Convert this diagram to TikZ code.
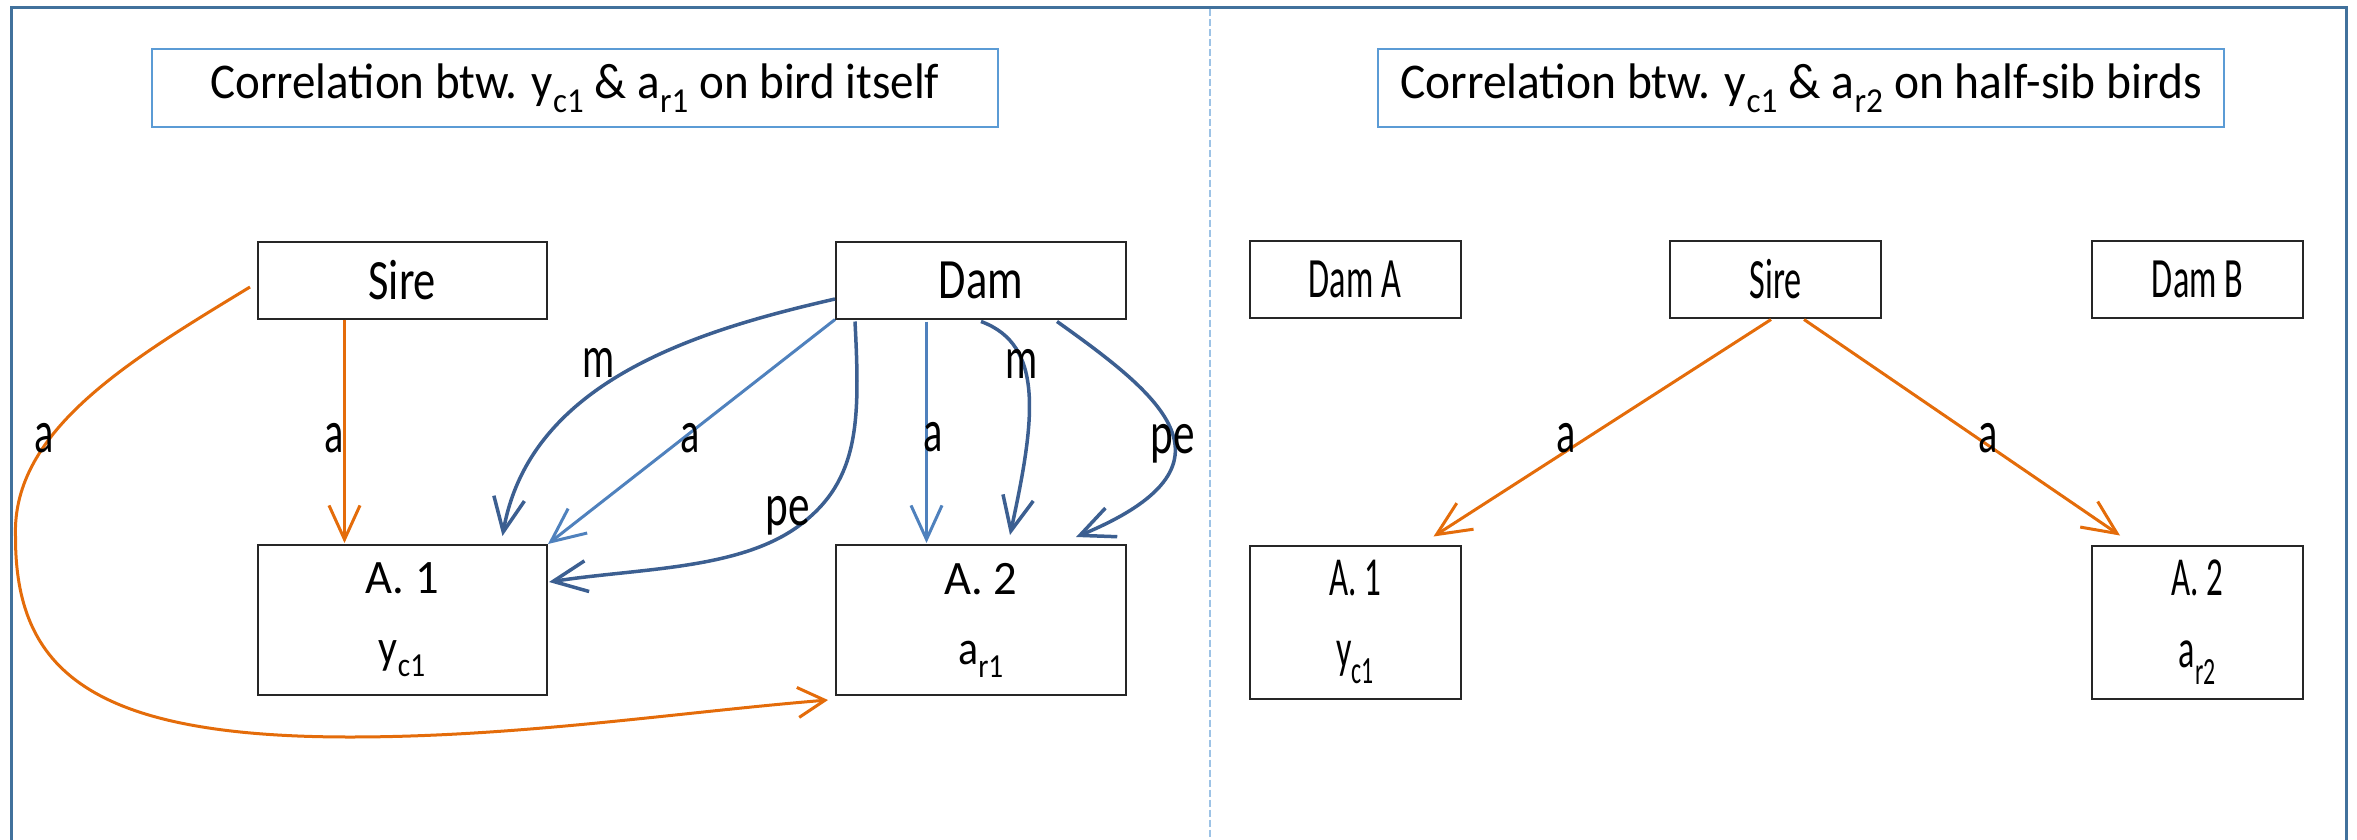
\documentclass[tikz,border=0pt]{standalone}
\usepackage{fontspec}
\setmainfont{Carlito}
\usepackage{graphicx}
\usetikzlibrary{arrows.meta,calc}
\definecolor{frameblue}{RGB}{65,113,156}
\definecolor{divblue}{RGB}{157,195,230}
\definecolor{titleblue}{RGB}{91,155,213}
\definecolor{orng}{RGB}{228,108,10}
\definecolor{dblue}{RGB}{60,95,145}
\definecolor{lblue}{RGB}{79,129,189}
\newcommand{\sx}[2]{\scalebox{#1}[1]{#2}}
\begin{document}
\begin{tikzpicture}[x=1pt,y=-1pt,
  box/.style={draw=black!85, line width=2pt, inner sep=0pt},
  titlebox/.style={draw=titleblue, line width=2pt, minimum width=846pt, minimum height=78pt, inner sep=0pt, font=\fontsize{50}{60}\selectfont},
  parent/.style={box, minimum height=77pt, font=\fontsize{57}{68}\selectfont},
  child/.style={box, minimum height=150pt, align=center, font=\fontsize{48}{70}\selectfont},
  lbl/.style={font=\fontsize{60}{70}\selectfont, inner sep=0pt},
  tipb/.style={-{Straight Barb[length=34pt,width=31pt]}},
  oarr/.style={draw=orng, line width=3pt, tipb},
  darr/.style={draw=dblue, line width=3.5pt, tipb},
  larr/.style={draw=lblue, line width=3pt, tipb},
]
\useasboundingbox (0,0) rectangle (2357,840);
\clip (0,0) rectangle (2357,840);
% frame and divider
\draw[frameblue, line width=3pt] (11,850) -- (11,8) -- (2346.5,8) -- (2346.5,850);
\draw[divblue, line width=2.5pt, dash pattern=on 7pt off 3pt] (1210,9.5) -- (1210,850);

% ---------- left panel ----------
\node[titlebox] (t1) at (575,88) {\sx{0.94}{Correlation btw. y\textsubscript{c1} \& a\textsubscript{r1} on bird itself}};
\node[parent, minimum width=289.5pt] (sire) at (402.25,280) {\sx{0.78}{Sire}};
\node[parent, minimum width=290pt] (dam) at (981,280) {\sx{0.78}{Dam}};
\node[child, minimum width=289.5pt] (a1) at (402.25,620) {\sx{0.97}{A. 1}\\\sx{0.87}{y\textsubscript{c1}}};
\node[child, minimum width=290pt] (a2) at (981,620) {\sx{0.97}{A. 2}\\\sx{0.87}{a\textsubscript{r1}}};

\draw[oarr] ($(sire.south west)+(88,0)$) -- ($(a1.north west)+(88,-1)$);
\draw[oarr, -{Straight Barb[length=27pt,width=30pt]}] ($(sire.west)+(-6.5,7)$) .. controls (130,360) and (12,430) .. (15.5,536)
  .. controls (15,670) and (90,737) .. (350,737)
  .. controls (520,737) and (680,712) .. ($(a2.south west)+(-7,4)$);
\draw[darr] ($(dam.west)+(0,19)$) .. controls (700,330) and (530,380) .. ($(a1.north west)+(246,-8)$);
\draw[larr] (dam.south west) -- (a1.north east);
\draw[darr] ($(dam.south west)+(20,2)$) .. controls (860,420) and (860,480) .. (800,525)
  .. controls (740,570) and (640,568) .. ($(a1.east)+(1,-38)$);
\draw[larr] ($(dam.south west)+(91.5,2)$) -- ($(a2.north west)+(91.5,-1)$);
\draw[darr] ($(dam.south west)+(146,2)$) .. controls (1045,345) and (1035,420) .. ($(a2.north west)+(175,-9)$);
\draw[darr] ($(dam.south west)+(222,2)$) .. controls (1160,395) and (1250,465) .. ($(a2.north west)+(241,-7)$);

\node[lbl] (lo1) at (44,438) {\sx{0.67}{a}};
\node[lbl] (lo2) at (334.5,438) {\sx{0.67}{a}};
\node[lbl] (lm1) at (599,363) {\sx{0.67}{m}};
\node[lbl] (la1) at (690.5,438) {\sx{0.67}{a}};
\node[lbl] (lp1) at (788,516) {\sx{0.72}{pe}};
\node[lbl] (la2) at (933.5,437.5) {\sx{0.67}{a}};
\node[lbl] (lm2) at (1022,363.5) {\sx{0.67}{m}};
\node[lbl] (lp2) at (1173,444) {\sx{0.72}{pe}};

% ---------- right panel ----------
\node[titlebox] (t2) at (1801,88) {\sx{0.95}{Correlation btw. y\textsubscript{c1} \& a\textsubscript{r2} on half-sib birds}};
\node[parent, minimum width=211pt] (damA) at (1355,279) {\sx{0.6}{Dam A}};
\node[parent, minimum width=211pt] (sireR) at (1775.5,279) {\sx{0.6}{Sire}};
\node[parent, minimum width=211pt] (damB) at (2197.5,279) {\sx{0.6}{Dam B}};
\node[child, minimum width=211pt, minimum height=153pt, font=\fontsize{55}{72}\selectfont] (a1R) at (1355,622) {\sx{0.6}{A. 1}\\\sx{0.62}{y\textsubscript{c1}}};
\node[child, minimum width=211pt, minimum height=153pt, font=\fontsize{55}{72}\selectfont] (a2R) at (2197.5,622) {\sx{0.6}{A. 2}\\\sx{0.62}{a\textsubscript{r2}}};

\draw[oarr] ($(sireR.south west)+(102,1)$) -- ($(a1R.north east)+(-28,-8)$);
\draw[oarr] ($(sireR.south west)+(135,1)$) -- ($(a2R.north west)+(29,-9)$);

\node[lbl] (lr1) at (1566,438) {\sx{0.67}{a}};
\node[lbl] (lr2) at (1988.5,438) {\sx{0.67}{a}};
\end{tikzpicture}
\end{document}
